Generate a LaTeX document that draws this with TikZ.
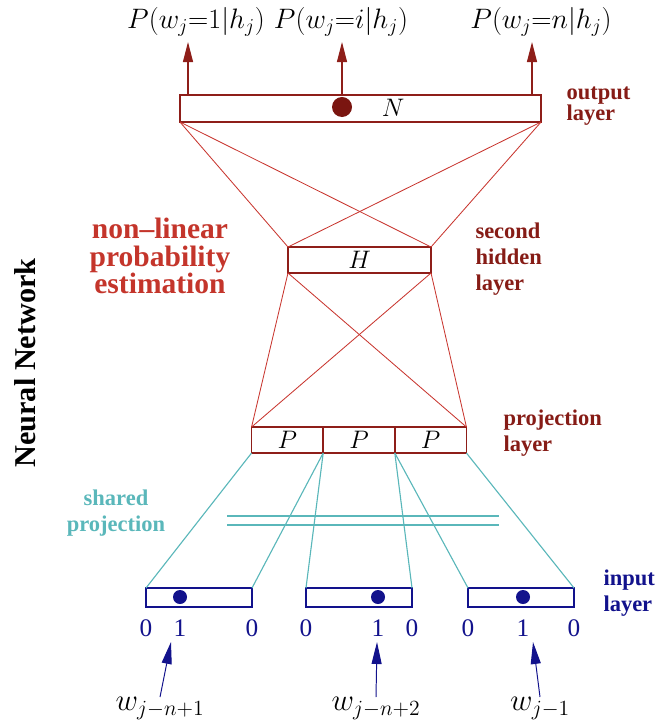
\RequirePackage{fix-cm}
\documentclass[tikz,border=0pt]{standalone}
\usepackage[no-math]{fontspec}
\setmainfont{Liberation Serif}
\usetikzlibrary{arrows.meta, positioning}
\definecolor{cboxred}{HTML}{8E1E19}
\definecolor{cline}{HTML}{C8362F}
\definecolor{clabel}{HTML}{861C16}
\definecolor{cbright}{HTML}{C4352B}
\definecolor{cteal}{HTML}{5AB7BA}
\definecolor{cnavy}{HTML}{12128C}
\definecolor{cdot}{HTML}{7A1510}
\tikzset{
  every picture/.style={line width=0.7pt},
  unitbox/.style={draw=cboxred, line width=1pt, inner sep=0pt, outer sep=0pt, font=\fontsize{18}{20}\selectfont},
  inbox/.style={draw=cnavy, line width=1pt, inner sep=0pt, outer sep=0pt, minimum width=2.65cm, minimum height=0.475cm},
  bigdot/.style={circle, fill=#1, inner sep=0pt, minimum size=0.35cm},
  redline/.style={draw=cline, line width=0.6pt},
  shareline/.style={draw=cteal, line width=0.8pt},
  outarrow/.style={-{Triangle[length=0.5cm, width=0.25cm]}, draw=cboxred, line width=0.8pt},
  inarrow/.style={-{Triangle[length=0.55cm, width=0.25cm]}, draw=cnavy, line width=0.7pt},
  layerlabel/.style={font=\bfseries\fontsize{16}{18.5}\selectfont, text=clabel, align=left, anchor=west, inner sep=0pt},
  probtext/.style={font=\fontsize{20}{24}\selectfont},
  digit/.style={font=\fontsize{18}{20}\selectfont, text=cnavy, inner sep=0pt},
  wlab/.style={font=\fontsize{22}{24}\selectfont, inner sep=0pt, anchor=north},
}

\begin{document}
\begin{tikzpicture}[x=0.025cm, y=-0.025cm]
  \useasboundingbox (0,0) rectangle (657,722);

  % output layer
  \node[unitbox, minimum width=9.025cm, minimum height=0.675cm] (N) at (360.5,108.5) {};
  \node[bigdot=cdot, minimum size=0.5cm] (Ndot) at (342,107) {};
  \node[font=\fontsize{18}{20}\selectfont] (Ntext) at (393,108) {$N$};
  \node[probtext] (pr1) at (196,22) {$P(w_j{=}1|h_j)$};
  \node[probtext] (pr2) at (341,22) {$P(w_j{=}i|h_j)$};
  \node[probtext] (pr3) at (541,22) {$P(w_j{=}n|h_j)$};
  \coordinate (t1) at (188,42);
  \coordinate (t2) at (342,42);
  \coordinate (t3) at (532,42);
  \foreach \i in {1,2,3}
    \draw[outarrow] (N.north -| t\i) -- (t\i);

  % hidden and projection layers
  \node[unitbox, minimum width=3.575cm, minimum height=0.65cm] (H) at (359.5,260) {$H$};
  \node[unitbox, minimum width=1.79cm, minimum height=0.65cm] (P2) at (359,440) {$P$};
  \node[unitbox, minimum width=1.79cm, minimum height=0.65cm, left=0pt of P2] (P1) {$P$};
  \node[unitbox, minimum width=1.79cm, minimum height=0.65cm, right=0pt of P2] (P3) {$P$};

  \foreach \a in {west,east} {
    \foreach \b in {west,east}
      \draw[redline] (N.south \a) -- (H.north \b);
    \draw[redline] (H.south \a) -- (P1.north west);
    \draw[redline] (H.south \a) -- (P3.north east);
  }

  % input layer
  \node[inbox] (in1) at (199,597.5) {};
  \node[inbox] (in2) at (359,597.5) {};
  \node[inbox] (in3) at (521,597.5) {};
  \node[bigdot=cnavy] (dot1) at (180,597) {};
  \node[bigdot=cnavy] (dot2) at (378,597) {};
  \node[bigdot=cnavy] (dot3) at (523,597) {};
  \foreach \i in {1,2,3} {
    \node[digit] (za\i) at (in\i.west |- 0,628) {0};
    \node[digit] (one\i) at (dot\i |- 0,628) {1};
    \node[digit] (zb\i) at (in\i.east |- 0,628) {0};
  }

  % shared projection
  \draw[shareline] (P1.south west) -- (in1.north west);
  \draw[shareline] (P1.south east) -- (in1.north east);
  \draw[shareline] (P1.south east) -- (in2.north west);
  \draw[shareline] (P2.south east) -- (in2.north east);
  \draw[shareline] (P2.south east) -- (in3.north west);
  \draw[shareline] (P3.south east) -- (in3.north east);
  \draw[shareline] (227,516) -- (499,516) (227,525) -- (499,525);

  % words
  \node[wlab] (w1) at (160,697) {$w_{j-n+1}$};
  \node[wlab] (w2) at (376,697) {$w_{j-n+2}$};
  \node[wlab] (w3) at (540,697) {$w_{j-1}$};
  \coordinate (h1) at (171,642);
  \coordinate (h2) at (377,642);
  \coordinate (h3) at (533,642);
  \foreach \i in {1,2,3}
    \draw[inarrow] (w\i.north) -- (h\i);

  % labels
  \node[layerlabel, font={\bfseries\fontsize{16}{14.5}\selectfont\lineskiplimit=-20pt}] (outlab) at (566,106) {output\\layer};
  \node[layerlabel] (hidlab) at (475,259) {second\\hidden\\layer};
  \node[layerlabel] (projlab) at (503,433) {projection\\layer};
  \node[layerlabel, text=cnavy] (inlab) at (603,593) {input\\layer};
  \node[layerlabel, text=cteal, align=center, anchor=center] (sharelab) at (116,513) {shared\\projection};
  \node[font=\bfseries\fontsize{21}{19.5}\selectfont, text=cbright, align=center] (nonlin) at (160,256) {non--linear\\probability\\estimation};
  \node[rotate=90, font=\bfseries\fontsize{21.5}{24}\selectfont] (nn) at (25,363) {Neural Network};
\end{tikzpicture}
\end{document}
